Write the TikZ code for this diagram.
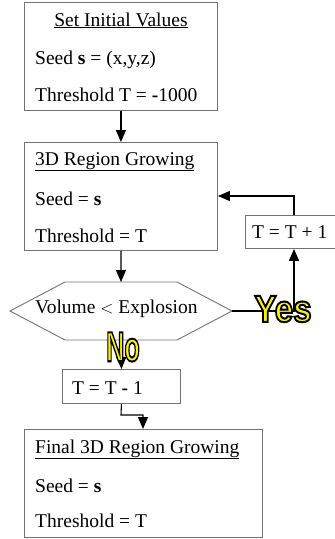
\documentclass[tikz,border=0pt]{standalone}
\usepackage{fontspec}
\setmainfont{Liberation Serif}
\newfontfamily\yesfont{Liberation Sans}
\usetikzlibrary{arrows.meta}
\newcommand{\outlined}[1]{\textcolor{yellow}{\special{pdf:literal direct 0 0 0 RG 2 Tr 2 w}#1\special{pdf:literal direct 0 Tr}}}
\begin{document}
\begin{tikzpicture}[x=1pt,y=-1pt,
  box/.style={draw=black!55, line width=0.9pt, inner sep=0pt, rectangle, anchor=north west},
  txt/.style={inner sep=0pt, anchor=base west, font=\fontsize{19.5}{23}\selectfont},
  conn/.style={draw=black, line width=1.1pt, -{Triangle[length=12pt,width=10pt]}},
  yn/.style={inner sep=0pt},
]
\useasboundingbox (0,0) rectangle (335,539);

% Box 1
\node[box, minimum width=193pt, minimum height=108pt] (b1) at (24,2) {};
\node[txt, anchor=base] (b1t) at (121,26) {\underline{Set Initial Values}};
\node[txt] (b1s) at (35,64) {Seed \textbf{s} = (x,y,z)};
\node[txt] (b1h) at (35,101) {Threshold T = \textbf{-}1000};

% Box 2
\node[box, minimum width=193pt, minimum height=108pt] (b2) at (24,142) {};
\node[txt] (b2t) at (35,165) {\underline{3D Region Growing}};
\node[txt] (b2s) at (35,205) {Seed = \textbf{s}};
\node[txt] (b2h) at (35,242) {Threshold = T};

% Hexagon decision
\coordinate (hl) at (10,311);
\coordinate (htl) at (65,282);
\coordinate (htr) at (177,282);
\coordinate (hr) at (232,311);
\coordinate (hbr) at (177,340);
\coordinate (hbl) at (65,340);
\coordinate (htop) at (121,282);
\coordinate (hbot) at (121,340);
\draw[draw=black!55, line width=0.9pt] (hl) -- (htl) -- (htr) -- (hr) -- (hbr) -- (hbl) -- cycle;
\node[txt] (ht) at (35,313) {Volume {\fontsize{16}{18}\selectfont$<$} Explosion};

% T = T + 1 box
\node[box, minimum width=92pt, minimum height=33pt] (inc) at (245,215) {};
\node[txt] (inct) at (252,238) {T = T + 1};

% T = T - 1 box
\node[box, minimum width=118pt, minimum height=34pt] (dec) at (62,369) {};
\node[txt] (dect) at (72,394) {T = T \textbf{-} 1};

% Final box
\node[box, minimum width=238pt, minimum height=108pt] (b3) at (24,429) {};
\node[txt] (b3t) at (35,453) {\underline{Final 3D Region Growing}};
\node[txt] (b3s) at (35,492) {Seed = \textbf{s}};
\node[txt] (b3h) at (35,527) {Threshold = T};

% Connectors
\coordinate (c1) at (294,311);
\coordinate (c2) at (294,196);
\coordinate (c3) at (121,415);
\coordinate (c4) at (143,415);
\draw[conn] (b1.south) -- (b2.north);
\draw[conn] (b2.south) -- (htop);
\draw[conn] (hr) -- (c1) -- (inc.south -| c1);
\draw[conn] (inc.north -| c2) -- (c2) -- (b2.east |- c2);
\draw[conn] (hbot) -- (dec.north);
\draw[conn] (dec.south) -- (c3) -- (c4) -- (c4 |- b3.north);

% Yes / No labels
\node[yn] (yes) at (283,309) {\scalebox{0.88}[1]{\yesfont\bfseries\fontsize{37.7}{40}\selectfont\outlined{Yes}}};
\node[yn] (no) at (123,347) {\scalebox{0.6}[1]{\yesfont\bfseries\fontsize{42}{44}\selectfont\outlined{No}}};
\end{tikzpicture}
\end{document}
